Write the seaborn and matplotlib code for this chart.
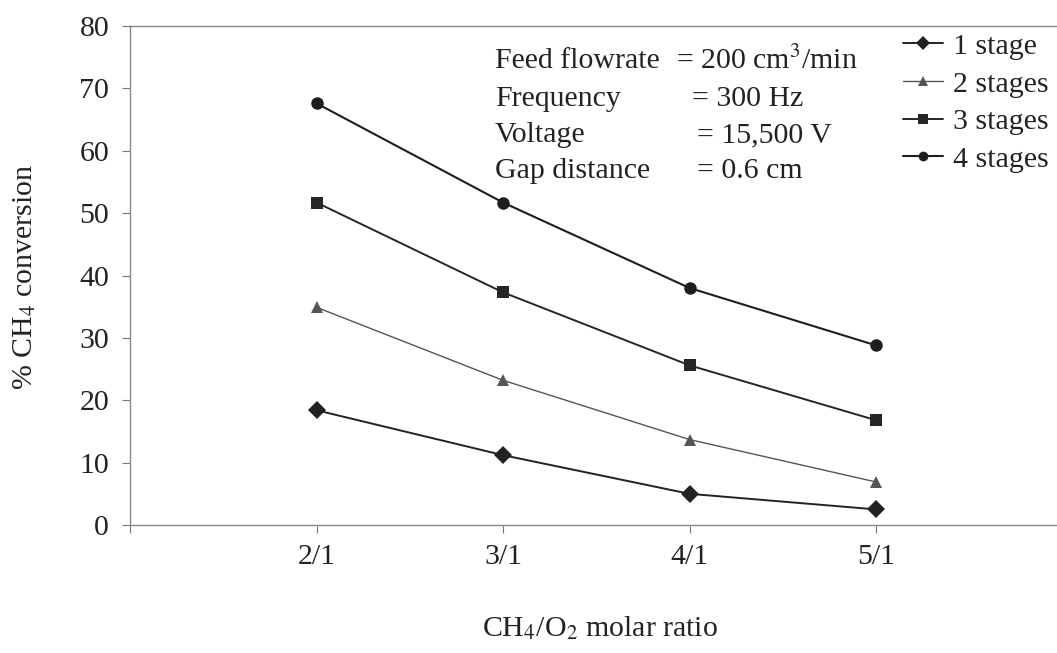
import matplotlib
matplotlib.use("Agg")
import matplotlib.pyplot as plt
import seaborn as sns
import pandas as pd
from matplotlib.lines import Line2D

ratios = ["2/1", "3/1", "4/1", "5/1"]
stage_1 = [18.4, 11.2, 5.0, 2.5]
stage_2 = [34.9, 23.2, 13.7, 6.9]
stage_3 = [51.7, 37.3, 25.6, 16.8]
stage_4 = [67.6, 51.7, 38.0, 28.8]
series_names = ["1 stage", "2 stages", "3 stages", "4 stages"]
yticks = [0, 10, 20, 30, 40, 50, 60, 70, 80]

rows = []
for name, vals in zip(series_names, [stage_1, stage_2, stage_3, stage_4]):
    for i, (r, v) in enumerate(zip(ratios, vals)):
        rows.append({"pos": i + 1, "ratio": r, "conv": v, "series": name})
df = pd.DataFrame(rows)

sns.set_theme(style="white")
plt.rcParams["font.family"] = ["Liberation Serif", "DejaVu Serif"]
plt.rcParams["mathtext.fontset"] = "stix"

FS = 21.5
fig = plt.figure(figsize=(10.57, 6.53), dpi=100)
ax = fig.add_axes([130 / 1057, 1 - 525 / 653, 1 - 130 / 1057, (525 - 26) / 653])

palette = {"1 stage": "#222222", "2 stages": "#555555", "3 stages": "#262626", "4 stages": "#1e1e1e"}
markers = {"1 stage": "D", "2 stages": "^", "3 stages": "s", "4 stages": "o"}
sizes = {"1 stage": 1.4, "2 stages": 1.0, "3 stages": 1.4, "4 stages": 1.5}

sns.lineplot(data=df, x="pos", y="conv", hue="series", style="series",
             markers=markers, dashes=False, palette=palette,
             size="series", sizes=sizes, markersize=9, markeredgewidth=0,
             ax=ax, legend=False)

ax.set_xlim(0, (1057 - 130) / 186.5)
ax.set_ylim(0, 80)
ax.set_xticks([0, 1, 2, 3, 4])
ax.set_xticklabels([""] + ratios)
ax.set_yticks(yticks)
ax.set_yticklabels([str(t) for t in yticks])
ax.tick_params(axis="both", which="both", direction="out", length=6, width=0.8,
               color="#777777", labelsize=FS, labelcolor="#222222",
               bottom=True, left=True, top=False, right=False)
ax.tick_params(axis="x", pad=8)
ax.tick_params(axis="y", pad=9)
for s in ["left", "bottom", "top"]:
    ax.spines[s].set_color("#888888")
    ax.spines[s].set_linewidth(1.0)
ax.spines["right"].set_visible(False)

ax.set_xlabel("")
ax.set_ylabel("")
fig.text(600 / 1057, 1 - 628 / 653, r"CH$_4$/O$_2$ molar ratio", ha="center", va="center",
         fontsize=FS, color="#222222")
fig.text(25 / 1057, 1 - 277 / 653, r"% CH$_4$ conversion", ha="center", va="center",
         rotation=90, fontsize=FS, color="#222222")

labels_l = ["Feed flowrate", "Frequency", "Voltage", "Gap distance"]
labels_r = [r"= 200 cm$^3$/min", "= 300 Hz", "= 15,500 V", "= 0.6 cm"]
ys = [61, 99, 135, 171]
xr = [676, 692, 697, 697]
for l, r, y, x2 in zip(labels_l, labels_r, ys, xr):
    fig.text(495 / 1057, 1 - y / 653, l, ha="left", va="center", fontsize=FS, color="#222222")
    fig.text(x2 / 1057, 1 - y / 653, r, ha="left", va="center", fontsize=FS, color="#222222")

handles = []
for n in series_names:
    handles.append(Line2D([], [], color=palette[n], marker=markers[n], markersize=7,
                          lw=sizes[n], markeredgewidth=0))
leg = fig.legend(handles, series_names, loc="upper left",
                 bbox_to_anchor=(903 / 1057, 1 - 33 / 653), frameon=False,
                 fontsize=FS, handlelength=1.35, handletextpad=0.33,
                 labelspacing=0.36, borderpad=0, borderaxespad=0)
for t in leg.get_texts():
    t.set_color("#222222")

fig.savefig("out.png", dpi=100)
